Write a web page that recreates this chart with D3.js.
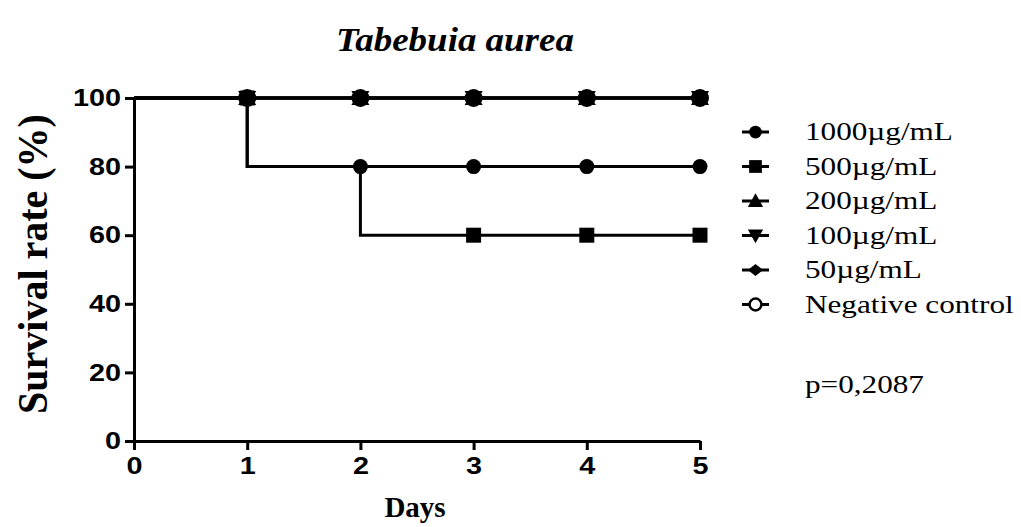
<!DOCTYPE html>
<html><head><meta charset="utf-8">
<script src="https://cdn.jsdelivr.net/npm/d3@7"></script>
<style>body{margin:0;background:#fff}svg{display:block}</style>
</head><body>
<script>
// ---- data ----
const title = "Tabebuia aurea";
const xLabel = "Days";
const yLabel = "Survival rate (%)";
const days = [0, 1, 2, 3, 4, 5];
const xTicks = [0, 1, 2, 3, 4, 5];
const yTicks = [0, 20, 40, 60, 80, 100];
const seriesNames = ["1000\u00b5g/mL", "500\u00b5g/mL", "200\u00b5g/mL", "100\u00b5g/mL", "50\u00b5g/mL", "Negative control"];
const seriesSymbols = ["circle", "square", "triangle", "triangleDown", "diamond", "openCircle"];
const survival1000 = [100, 80, 80, 80, 80, 80];
const survival500 = [100, 80, 60, 60, 60, 60];
const survival200 = [100, 100, 100, 100, 100, 100];
const survival100 = [100, 100, 100, 100, 100, 100];
const survival50 = [100, 100, 100, 100, 100, 100];
const survivalNeg = [100, 100, 100, 100, 100, 100];
// days at which a point marker is shown (value taken just before each day's step)
const markerDays1000 = [1, 2, 3, 4, 5];
const markerDays500 = [1, 3, 4, 5];
const markerDaysOther = [1, 2, 3, 4, 5];
const pValue = "p=0,2087";

const seriesValues = [survival1000, survival500, survival200, survival100, survival50, survivalNeg];
const seriesMarkerDays = [markerDays1000, markerDays500, markerDaysOther, markerDaysOther, markerDaysOther, markerDaysOther];

// ---- layout ----
const W = 1021, H = 527;
const svg = d3.select("body").append("svg").attr("width", W).attr("height", H);
const x = d3.scaleLinear().domain([0, 5]).range([134, 700]);
const y = d3.scaleLinear().domain([0, 100]).range([441, 98]);
const serif = "'Liberation Serif', 'Times New Roman', serif";

function stretchText(sel, cx, sx) {
  sel.attr("transform", `translate(${cx},0) scale(${sx},1) translate(${-cx},0)`);
}

// title
svg.append("text").attr("x", 455).attr("y", 51).attr("text-anchor", "middle")
  .attr("font-family", serif).attr("font-weight", "bold").attr("font-style", "italic")
  .attr("font-size", 33).text(title).call(stretchText, 455, 1.12);

// axes
const axisFont = "'Liberation Sans', Arial, sans-serif";
const SXT = 1.2;
const gy = svg.append("g").attr("transform", `translate(${x(0)},0)`)
  .call(d3.axisLeft(y).tickValues(yTicks).tickFormat(d3.format("d")).tickSize(9).tickSizeOuter(0).tickPadding(4));
const gx = svg.append("g").attr("transform", `translate(0,${y(0)})`)
  .call(d3.axisBottom(x).tickValues(xTicks).tickFormat(d3.format("d")).tickSize(9).tickSizeOuter(0).tickPadding(7));
[gx, gy].forEach(g => {
  g.select(".domain").attr("stroke", "#000").attr("stroke-width", 3);
  g.selectAll(".tick line").attr("stroke", "#000").attr("stroke-width", 3);
  g.selectAll(".tick text").attr("fill", "#000").attr("font-family", axisFont)
    .attr("font-weight", "bold").attr("font-size", 24);
});
gy.selectAll(".tick text").each(function () {
  const t = d3.select(this); const xx = +t.attr("x");
  t.attr("transform", `translate(${xx},0) scale(${SXT},1) translate(${-xx},0)`);
});
gx.selectAll(".tick text").attr("transform", `scale(${SXT},1)`);

// axis titles
svg.append("text").attr("x", 415).attr("y", 517).attr("text-anchor", "middle")
  .attr("font-family", serif).attr("font-weight", "bold").attr("font-size", 29)
  .text(xLabel);
svg.append("text").attr("transform", `translate(47,264) scale(1.05,1) rotate(-90)`)
  .attr("text-anchor", "middle")
  .attr("font-family", serif).attr("font-weight", "bold").attr("font-size", 40)
  .text(yLabel);

// step curves
const step = d3.line().x(d => x(d[0])).y(d => y(d[1])).curve(d3.curveStepAfter);
const plot = svg.append("g");
seriesValues.slice().reverse().forEach(vals => {
  plot.append("path").datum(days.map((d, i) => [d, vals[i]]))
    .attr("d", step).attr("fill", "none").attr("stroke", "#000").attr("stroke-width", 3);
});

// symbols
function drawSymbol(g, type, cx, cy, s, ringW) {
  const sz = s || 1;
  if (type === "circle") g.append("circle").attr("cx", cx).attr("cy", cy).attr("r", 7.5 * sz).attr("fill", "#000");
  else if (type === "openCircle") g.append("circle").attr("cx", cx).attr("cy", cy).attr("r", 7 * sz).attr("fill", "#fff").attr("stroke", "#000").attr("stroke-width", ringW || 2.5);
  else if (type === "square") g.append("rect").attr("x", cx - 7.5 * sz).attr("y", cy - 7.5 * sz).attr("width", 15 * sz).attr("height", 15 * sz).attr("fill", "#000");
  else if (type === "triangle") g.append("path").attr("d", `M${cx},${cy - 9 * sz}L${cx + 9 * sz},${cy + 7 * sz}L${cx - 9 * sz},${cy + 7 * sz}Z`).attr("fill", "#000");
  else if (type === "triangleDown") g.append("path").attr("d", `M${cx},${cy + 9 * sz}L${cx + 9 * sz},${cy - 7 * sz}L${cx - 9 * sz},${cy - 7 * sz}Z`).attr("fill", "#000");
  else if (type === "diamond") g.append("path").attr("d", `M${cx},${cy - 7 * sz}L${cx + 9 * sz},${cy}L${cx},${cy + 7 * sz}L${cx - 9 * sz},${cy}Z`).attr("fill", "#000");
}
// draw from last series to first so filled markers sit on top
for (let si = seriesValues.length - 1; si >= 0; si--) {
  const vals = seriesValues[si];
  seriesMarkerDays[si].forEach(d => {
    const v = vals[days.indexOf(d) - 1];
    drawSymbol(plot, seriesSymbols[si], x(d), y(v), 1, 4);
  });
}

// legend
const legend = svg.append("g");
const legY0 = 132, legDy = 34.5;
seriesNames.forEach((name, i) => {
  const ly = legY0 + i * legDy;
  legend.append("line").attr("x1", 742).attr("x2", 769).attr("y1", ly).attr("y2", ly)
    .attr("stroke", "#000").attr("stroke-width", 3);
  drawSymbol(legend, seriesSymbols[i], 755.5, ly, 0.85, 2.5);
  legend.append("text").attr("x", 805).attr("y", ly + 8.5)
    .attr("font-family", serif).attr("font-size", 26).text(name)
    .call(stretchText, 805, 1.2);
});
legend.append("text").attr("x", 805).attr("y", 393)
  .attr("font-family", serif).attr("font-size", 26).text(pValue)
  .call(stretchText, 805, 1.2);
</script>
</body></html>
